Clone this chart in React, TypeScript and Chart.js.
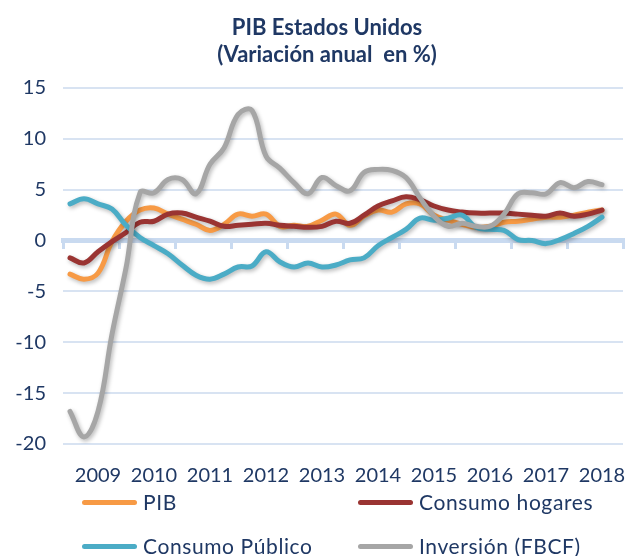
import React, { useEffect, useRef } from "react";
import { Chart, registerables } from "chart.js";

Chart.register(...registerables);

// ---- Data (quarterly, year-on-year % change) ----
const quarters = [
  "2008T3", "2008T4",
  "2009T1", "2009T2", "2009T3", "2009T4",
  "2010T1", "2010T2", "2010T3", "2010T4",
  "2011T1", "2011T2", "2011T3", "2011T4",
  "2012T1", "2012T2", "2012T3", "2012T4",
  "2013T1", "2013T2", "2013T3", "2013T4",
  "2014T1", "2014T2", "2014T3", "2014T4",
  "2015T1", "2015T2", "2015T3", "2015T4",
  "2016T1", "2016T2", "2016T3", "2016T4",
  "2017T1", "2017T2", "2017T3", "2017T4",
  "2018T1",
];

const pib = [
  -3.3, -3.8, -3.2, -0.1, 1.9, 3.0, 3.2, 2.6, 2.1, 1.6,
  1.0, 1.6, 2.6, 2.4, 2.6, 1.4, 1.5, 1.4, 2.0, 2.6,
  1.5, 2.4, 3.0, 2.8, 3.6, 3.6, 2.5, 2.0, 1.6, 1.3,
  1.4, 1.8, 1.9, 2.1, 2.3, 2.3, 2.5, 2.8, 3.0,
];

const consumoHogares = [
  -1.7, -2.2, -1.1, -0.1, 0.8, 1.8, 1.9, 2.6, 2.7, 2.3,
  1.9, 1.4, 1.5, 1.6, 1.7, 1.5, 1.4, 1.3, 1.4, 1.9,
  1.7, 2.5, 3.4, 3.9, 4.3, 4.0, 3.4, 3.0, 2.8, 2.7,
  2.7, 2.7, 2.6, 2.5, 2.4, 2.7, 2.4, 2.6, 3.0,
];

const consumoPublico = [
  3.6, 4.1, 3.6, 3.1, 1.5, 0.3, -0.5, -1.3, -2.4, -3.4,
  -3.8, -3.3, -2.6, -2.5, -1.1, -2.1, -2.6, -2.2, -2.6, -2.4,
  -1.9, -1.7, -0.5, 0.3, 1.1, 2.2, 2.0, 2.2, 2.5, 1.3,
  1.1, 1.0, 0.1, 0.0, -0.3, 0.1, 0.7, 1.4, 2.3,
];

const inversion = [
  -16.8, -19.3, -16.8, -9.2, -2.7, 4.7, 4.7, 6.0, 6.0, 4.6,
  7.5, 9.1, 12.4, 12.8, 8.3, 7.1, 5.7, 4.6, 6.2, 5.4,
  4.9, 6.7, 7.0, 6.9, 6.2, 4.2, 2.4, 1.4, 1.7, 1.4,
  1.4, 2.6, 4.6, 4.7, 4.6, 5.7, 5.2, 5.8, 5.5,
];

const yearLabels = [2009, 2010, 2011, 2012, 2013, 2014, 2015, 2016, 2017, 2018];
const yTicks = [15, 10, 5, 0, -5, -10, -15, -20];

const seriesNames = ["PIB", "Consumo hogares", "Consumo Público", "Inversión (FBCF)"];
const seriesColors = ["#F79A45", "#9A3432", "#4BACC6", "#A6A6A6"];

const TITLE_LINES = ["PIB Estados Unidos", "(Variación anual  en %)"];

// ---- Style ----
const FONT = "Lato, 'Open Sans', sans-serif";
const TEXT = "#1F3864";
const GRID = "#D8E3F2";
const AXIS = "#C9DAF0";
const X_MIN = 2008.375;
const X_MAX = 2018.375;

function quarterToYear(q: string): number {
  const [y, t] = q.split("T");
  return Number(y) + (Number(t) - 1) / 4;
}

const shadowPlugin = {
  id: "lineShadow",
  beforeDatasetDraw(chart: any) {
    const c = chart.ctx;
    c.save();
    c.shadowColor = "rgba(0,0,0,0.28)";
    c.shadowBlur = 4;
    c.shadowOffsetX = 1.5;
    c.shadowOffsetY = 2;
  },
  afterDatasetDraw(chart: any) {
    chart.ctx.restore();
  },
};

export default function App() {
  const ref = useRef<HTMLCanvasElement>(null);

  useEffect(() => {
    const allValues = [pib, consumoHogares, consumoPublico, inversion];
    const orders = [3, 2, 1, 0];
    const chart = new Chart(ref.current!, {
      type: "line",
      data: {
        datasets: allValues.map((vals, i) => ({
          label: seriesNames[i],
          data: vals.map((v, j) => ({ x: quarterToYear(quarters[j]), y: v })),
          borderColor: seriesColors[i],
          backgroundColor: seriesColors[i],
          borderWidth: 5,
          pointRadius: 0,
          tension: 0.4,
          fill: false,
          order: orders[i],
          xAxisID: "x",
          yAxisID: "y",
          borderCapStyle: "round",
          borderJoinStyle: "round",
        })),
      },
      options: {
        responsive: false,
        animation: false,
        layout: { padding: { top: 88, left: 5, right: 4, bottom: 48 } },
        plugins: {
          legend: { display: false },
          title: { display: false },
          tooltip: { enabled: false },
        },
        scales: {
          y: {
            type: "linear",
            min: -20,
            max: 15,
            position: "left",
            afterBuildTicks: (s: any) => {
              s.ticks = yTicks.map((v) => ({ value: v }));
            },
            afterFit: (s: any) => {
              s.width = 58;
            },
            ticks: {
              color: TEXT,
              font: { family: FONT, size: 20 },
              padding: 17,
              callback: (v: any) => String(v),
            },
            grid: { color: GRID, lineWidth: 2, drawTicks: false },
            border: { display: false },
          },
          x: {
            type: "linear",
            min: X_MIN,
            max: X_MAX,
            position: { y: 0 } as any,
            afterBuildTicks: (s: any) => {
              s.ticks = Array.from({ length: 11 }, (_, k) => ({ value: X_MIN + k }));
            },
            afterFit: (s: any) => {
              s.paddingLeft = 0;
              s.paddingRight = 0;
              s.paddingTop = 0;
              s.paddingBottom = 0;
            },
            ticks: { display: false },
            grid: {
              drawOnChartArea: false,
              drawTicks: true,
              tickLength: 6,
              color: AXIS,
              lineWidth: 3,
            },
            border: { display: true, color: AXIS, width: 5 },
          },
          x2: {
            type: "linear",
            min: X_MIN,
            max: X_MAX,
            position: "bottom",
            afterBuildTicks: (s: any) => {
              s.ticks = yearLabels.map((v) => ({ value: v }));
            },
            afterFit: (s: any) => {
              s.paddingLeft = 0;
              s.paddingRight = 0;
            },
            ticks: {
              autoSkip: false,
              maxRotation: 0,
              color: TEXT,
              font: { family: FONT, size: 20 },
              padding: 20,
              callback: (v: any) => String(v),
            },
            grid: { display: false, drawTicks: false },
            border: { display: false },
          },
        },
      } as any,
      plugins: [shadowPlugin],
    });
    return () => chart.destroy();
  }, []);

  const legendPos = [
    { left: 82, top: 490 },
    { left: 358, top: 490 },
    { left: 82, top: 534 },
    { left: 358, top: 534 },
  ];

  return (
    <div
      style={{
        position: "fixed",
        left: 0,
        top: 0,
        width: 627,
        height: 556,
        background: "#fff",
        overflow: "hidden",
        fontFamily: FONT,
      }}
    >
      <canvas ref={ref} width={627} height={556} style={{ position: "absolute", left: 0, top: 0 }} />
      <div
        style={{
          position: "absolute",
          left: 327,
          top: 13,
          transform: "translateX(-50%)",
          textAlign: "center",
          whiteSpace: "pre",
          color: TEXT,
          fontWeight: 700,
          fontSize: 22,
          lineHeight: "27px",
        }}
      >
        {TITLE_LINES.map((t) => (
          <div key={t}>{t}</div>
        ))}
      </div>
      {seriesNames.map((name, i) => (
        <div
          key={name}
          style={{
            position: "absolute",
            left: legendPos[i].left,
            top: legendPos[i].top,
            display: "flex",
            alignItems: "center",
            height: 24,
            whiteSpace: "nowrap",
          }}
        >
          <span
            style={{
              display: "inline-block",
              width: 55,
              height: 5,
              borderRadius: 3,
              background: seriesColors[i],
              marginRight: 6,
            }}
          />
          <span style={{ color: TEXT, fontSize: 21, letterSpacing: 0.6, lineHeight: "24px" }}>{name}</span>
        </div>
      ))}
    </div>
  );
}
